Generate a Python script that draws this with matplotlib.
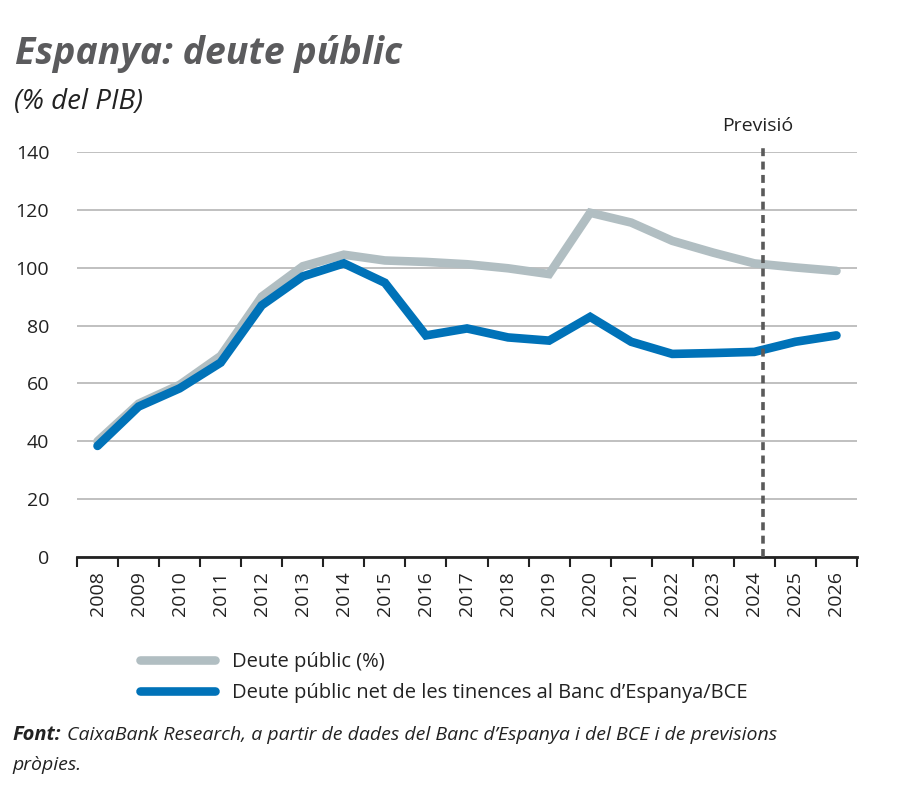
import matplotlib
matplotlib.use("Agg")
import matplotlib.pyplot as plt
import numpy as np

years = [str(y) for y in range(2008, 2027)]
deute_public = [40, 53, 59.5, 69.5, 90, 100.5, 104.5, 102.5, 102, 101.2, 99.8, 97.8,
                119, 115.6, 109.3, 105.2, 101.5, 100.1, 98.9]
deute_net = [38.4, 52, 58.3, 67.2, 87, 97, 101.5, 94.8, 76.6, 79, 75.9, 74.8,
             83, 74.4, 70.2, 70.5, 70.9, 74.4, 76.6]
yticks = [0, 20, 40, 60, 80, 100, 120, 140]
labels = ["Deute públic (%)", "Deute públic net de les tinences al Banc d’Espanya/BCE"]
forecast_pos = 16.2

plt.rcParams['font.family'] = ['Open Sans', 'DejaVu Sans']

fig = plt.figure(figsize=(9, 7.88), dpi=100)
ax = fig.add_axes([77/900, 1-557/788, (857-77)/900, (557-152)/788])

x = np.arange(len(years))
GRAY = '#b1bec2'
BLUE = '#0072b8'
l1, = ax.plot(x, deute_public, color=GRAY, lw=6.2, solid_capstyle='round', solid_joinstyle='miter', zorder=3)
l2, = ax.plot(x, deute_net, color=BLUE, lw=6.2, solid_capstyle='round', solid_joinstyle='miter', zorder=4)

ax.set_xlim(-0.5, len(years) - 0.5)
ax.set_ylim(0, 140)
ax.set_yticks(yticks)
ax.set_yticklabels([str(v) for v in yticks], fontsize=14, color='#222222')
ax.yaxis.grid(True, color='#b5b5b5', lw=1.2)
ax.set_axisbelow(True)
ax.tick_params(axis='y', length=0, pad=20)

ax.set_xticks(x)
ax.set_xticklabels(years, rotation=90, fontsize=14, color='#222222')
ax.tick_params(axis='x', which='major', length=0, pad=10)
ax.set_xticks(np.arange(-0.5, len(years)), minor=True)
ax.tick_params(axis='x', which='minor', length=7, width=1.5, color='#222222', direction='out')

for s in ['top', 'right', 'left']:
    ax.spines[s].set_visible(False)
ax.spines['bottom'].set_linewidth(2)
ax.spines['bottom'].set_color('#222222')

ax.plot([forecast_pos, forecast_pos], [0, 142.5], color='#5a5a5a', lw=2.6,
        linestyle=(0, (2.2, 1.5)), clip_on=False, zorder=5)
ax.text(forecast_pos - 0.12, 146, 'Previsió', ha='center', va='bottom', fontsize=14, color='#222222')

fig.text(15/900, 1-54/788, 'Espanya: deute públic', fontsize=27, fontweight='bold',
         style='italic', color='#5b5b5d', va='center', ha='left')
fig.text(14/900, 1-102/788, '(% del PIB)', fontsize=20, style='italic', color='#222222',
         va='center', ha='left')

fig.legend([l1, l2], labels, loc='upper left', bbox_to_anchor=(140/900, 1-652/788),
           frameon=False, fontsize=14.5, handlelength=3.7, handletextpad=0.85,
           labelspacing=0.55, borderaxespad=0, borderpad=0, labelcolor='#222222')

fig.text(12/900, 1-735/788, 'Font:', fontsize=14.5, fontweight='bold', style='italic',
         color='#222222', va='center', ha='left')
fig.text(67/900, 1-735/788, 'CaixaBank Research, a partir de dades del Banc d’Espanya i del BCE i de previsions',
         fontsize=14, style='italic', color='#222222', va='center', ha='left')
fig.text(12/900, 1-765/788, 'pròpies.', fontsize=14, style='italic', color='#222222',
         va='center', ha='left')

fig.savefig('out.png', dpi=100)
